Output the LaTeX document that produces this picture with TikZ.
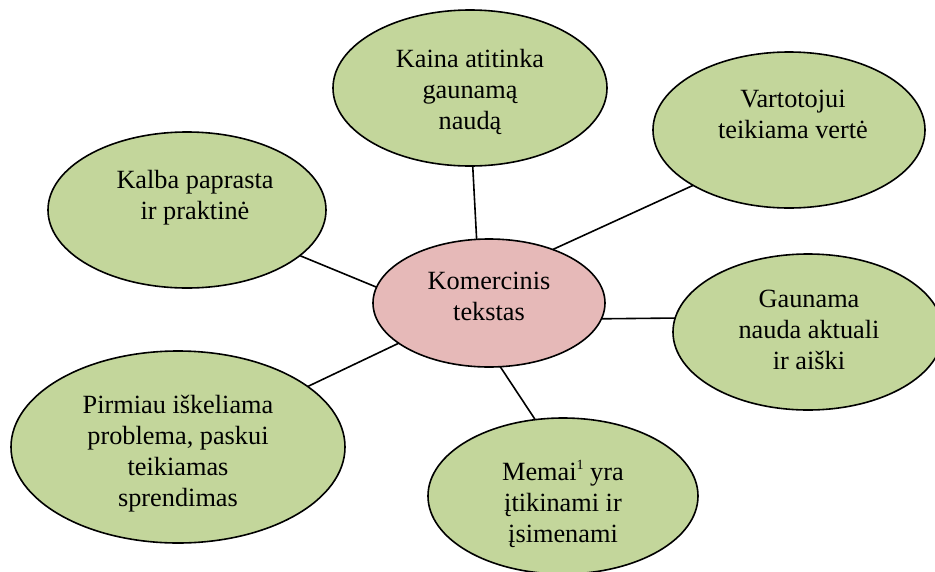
\documentclass[tikz,border=0pt]{standalone}
\usepackage{fontspec}
\setmainfont{Liberation Serif}
\usetikzlibrary{shapes.geometric}
\definecolor{leafgreen}{HTML}{C3D69B}
\definecolor{corepink}{HTML}{E6B9B8}
\newcommand\smallsup[1]{\raisebox{0.42em}{\fontsize{14}{14}\selectfont #1}}
\tikzset{
  bubble/.style={ellipse, draw=black, line width=1.6pt, fill=leafgreen,
    inner sep=0pt, outer sep=0pt},
  corebubble/.style={bubble, fill=corepink},
  caption/.style={anchor=north, align=center, inner sep=0pt,
    font=\fontsize{26.3}{31}\selectfont},
  link/.style={draw=black, line width=1.6pt}
}
\begin{document}
\begin{tikzpicture}[x=1pt, y=-1pt]
  \useasboundingbox (0,0) rectangle (935,571);
  \clip (0,0) rectangle (935,571);

  % bubbles
  \node[corebubble, minimum width=232pt, minimum height=128pt] (core) at (489,303) {};
  \node[bubble, minimum width=274pt, minimum height=156pt] (kaina) at (470,88) {};
  \node[bubble, minimum width=272pt, minimum height=156pt] (vart) at (789,130) {};
  \node[bubble, minimum width=278pt, minimum height=156pt] (kalba) at (187,210) {};
  \node[bubble, minimum width=270pt, minimum height=156pt] (gaun) at (808,332) {};
  \node[bubble, minimum width=334pt, minimum height=192pt] (pirm) at (178,447) {};
  \node[bubble, minimum width=270pt, minimum height=156pt] (memai) at (563,496) {};

  % links from the core to every bubble
  \draw[link] (core.101) -- (kaina.272);
  \draw[link] (core.40) -- (vart.210);
  \draw[link] (core.172.5) -- (kalba.338);
  \draw[link] (core.352.6) -- (gaun.174);
  \draw[link] (core.204) -- (pirm.25);
  \draw[link] (core.280) -- (memai.110);

  % captions
  \node[caption] (t-core) at (489,267.3) {\strut Komercinis\\tekstas};
  \node[caption] (t-kaina) at (470,45.3) {\strut Kaina atitinka\\gaunamą\\naudą};
  \node[caption] (t-vart) at (793,85.3) {\strut Vartotojui\\teikiama vertė};
  \node[caption] (t-kalba) at (195,166.3) {\strut Kalba paprasta\\ir praktinė};
  \node[caption] (t-gaun) at (809,285.3) {\strut Gaunama\\nauda aktuali\\ir aiški};
  \node[caption] (t-pirm) at (178,391.3) {\strut Pirmiau iškeliama\\problema, paskui\\teikiamas\\sprendimas};
  \node[caption] (t-memai) at (563,458.3) {\strut Memai\smallsup{1} yra\\įtikinami ir\\įsimenami};
\end{tikzpicture}
\end{document}
